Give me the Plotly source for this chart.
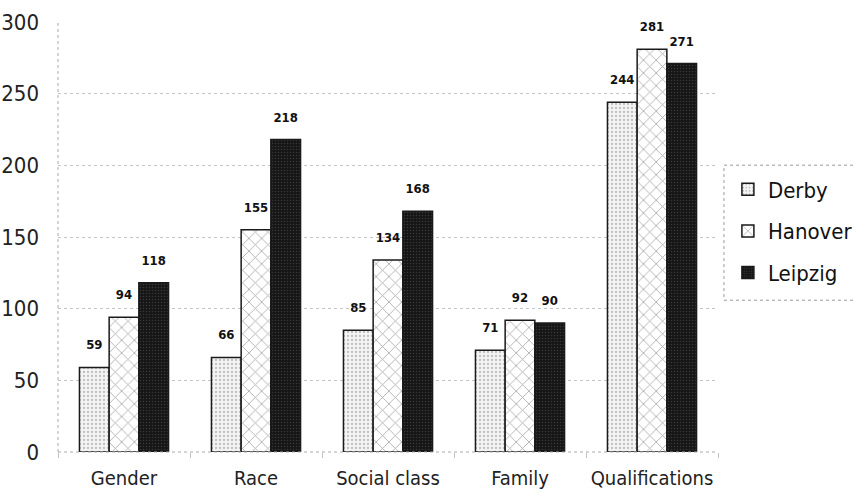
import plotly.graph_objects as go

categories = ["Gender", "Race", "Social class", "Family", "Qualifications"]
derby = [59, 66, 85, 71, 244]
hanover = [94, 155, 134, 92, 281]
leipzig = [118, 218, 168, 90, 271]
series_names = ["Derby", "Hanover", "Leipzig"]
y_ticks = [0, 50, 100, 150, 200, 250, 300]

FONT = "Liberation Sans Narrow, Arial Narrow, DejaVu Sans Condensed, sans-serif"

styles = [
    dict(color="#f2f2f2", pattern=dict(shape=".", fgcolor="#8a8a8a", bgcolor="#f4f4f4", size=4, solidity=0.25)),
    dict(color="#ffffff", pattern=dict(shape="x", fgcolor="#555555", bgcolor="#ffffff", size=9, solidity=0.18)),
    dict(color="#1c1c1c", pattern=dict(shape=".", fgcolor="#5a5a5a", bgcolor="#161616", size=3, solidity=0.2)),
]

fig = go.Figure()
for name, vals, st in zip(series_names, [derby, hanover, leipzig], styles):
    fig.add_trace(go.Bar(
        x=categories, y=vals, name=name, legendgroup=name, offsetgroup=name,
        marker=dict(color=st["color"], pattern=st["pattern"],
                    line=dict(color="#1a1a1a", width=1.5)),
        cliponaxis=False,
    ))

# value labels: invisible markers in the same offset groups lift the text above each bar
for name, vals in zip(series_names, [derby, hanover, leipzig]):
    fig.add_trace(go.Scatter(
        x=categories, y=vals, offsetgroup=name, showlegend=False, hoverinfo="skip",
        mode="markers+text", marker=dict(size=22, opacity=0),
        text=[str(v) for v in vals], textposition="top center",
        textfont=dict(family=FONT, size=13, color="#111111", weight="bold"),
        cliponaxis=False,
    ))

fig.update_layout(
    width=854, height=501,
    margin=dict(l=58, r=136, t=22, b=49, autoexpand=False),
    paper_bgcolor="white", plot_bgcolor="white",
    barmode="group", bargap=0.325, bargroupgap=0,
    scattermode="group", scattergap=0.325,
    font=dict(family=FONT, color="#222222"),
    showlegend=True,
    legend=dict(x=1.015, xanchor="left", y=0.514, yanchor="middle", xref="paper",
                font=dict(family=FONT, size=22, color="#111111"),
                bgcolor="rgba(0,0,0,0)", itemwidth=30, tracegroupgap=10,
                traceorder="grouped", borderwidth=0),
    xaxis=dict(tickfont=dict(family=FONT, size=20, color="#222222"),
               showgrid=False, ticks="outside", tickson="boundaries",
               ticklen=5, tickcolor="#c0c0c0", showline=False, zeroline=False,
               ticklabelstandoff=12, automargin=False),
    yaxis=dict(range=[0, 300], tickvals=y_ticks,
               tickfont=dict(family=FONT, size=22, color="#222222"),
               ticklabelstandoff=18, automargin=False,
               showgrid=True, gridcolor="#c4c4c4", griddash="dot", gridwidth=1,
               zeroline=False, showline=False),
)

# dotted axis lines and the legend frame
fig.add_shape(type="line", xref="paper", yref="paper", x0=0, x1=0, y0=0, y1=1,
              line=dict(color="#aaaaaa", width=1, dash="dot"))
fig.add_shape(type="line", xref="paper", yref="paper", x0=0, x1=1, y0=0, y1=0,
              line=dict(color="#aaaaaa", width=1, dash="dot"))
fig.add_shape(type="rect", xref="paper", yref="paper", x0=1.009, x1=1.25, y0=0.353, y1=0.667,
              line=dict(color="#999999", width=1, dash="dot"))

fig.write_html("out.html")
